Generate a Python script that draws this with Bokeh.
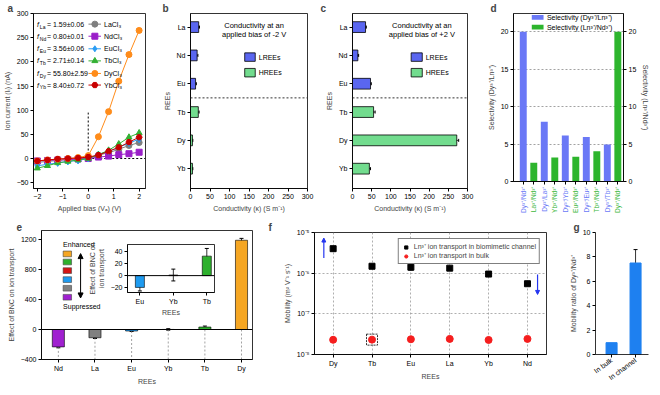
import math
from bokeh.plotting import figure
from bokeh.layouts import row, column
from bokeh.models import (Range1d, LinearAxis, FixedTicker, Span, Whisker, TeeHead, Arrow,
                          NormalHead, Label, ColumnDataSource, Legend, LegendItem,
                          CustomJSTickFormatter)
from bokeh.core.properties import value
from bokeh.embed import file_html
from bokeh.resources import INLINE

FONT = "Liberation Sans"

# ---------------- data ----------------
# panel a: I-V curves
bias = [-2.0, -1.6, -1.2, -0.8, -0.4, 0.0, 0.4, 0.8, 1.2, 1.6, 2.0]
current_La = [-8, -6, -4, -2, -1, 2, 7, 12, 19, 27, 33]
current_Nd = [-5, -4, -3, -2, -1, 0, 3, 5, 8, 10, 13]
current_Eu = [-15, -12, -9, -6, -4, 0, 8, 15, 23, 32, 40]
current_Tb = [-20, -15, -9, -6, -3, 0, 8, 17, 30, 44, 53]
current_Dy = [-5, -3, -1.5, 0, 2, 6, 45, 97, 160, 215, 265]
current_Dy_err = [1, 1, 1, 1, 1, 1, 2, 3, 3, 3, 3]
current_Yb = [-5, -3, -1, 0, 1, 3, 7, 15, 23, 34, 44]
salt_labels = ["LaCl₃", "NdCl₃", "EuCl₃", "TbCl₃", "DyCl₃", "YbCl₃"]
f_elements = ["La", "Nd", "Eu", "Tb", "Dy", "Yb"]
f_values = ["1.59±0.06", "0.80±0.01", "3.56±0.06", "2.71±0.14", "55.80±2.59", "8.40±0.72"]

# panels b, c: conductivity
ree_cats = ["La", "Nd", "Eu", "Tb", "Dy", "Yb"]
ree_group = ["LREEs", "LREEs", "LREEs", "HREEs", "HREEs", "HREEs"]
cond_neg2 = [21, 17, 13, 20, 5, 5]
cond_neg2_err = [2, 2, 2, 2, 1, 1]
cond_pos2 = [34, 14, 47, 55, 272, 44]
cond_pos2_err = [2, 2, 2, 4, 5, 3]

# panel d: selectivity
sel_labels = ["Dy³⁺/Nd³⁺", "La³⁺/Nd³⁺", "Dy³⁺/La³⁺", "Yb³⁺/Nd³⁺", "Dy³⁺/Yb³⁺",
              "Eu³⁺/Nd³⁺", "Dy³⁺/Eu³⁺", "Tb³⁺/Nd³⁺", "Dy³⁺/Tb³⁺", "Dy³⁺/Nd³⁺"]
sel_values = [20, 2.5, 8.0, 3.2, 6.15, 3.3, 5.95, 4.05, 4.95, 20]
sel_kind = ["Dy/Ln", "Ln/Nd", "Dy/Ln", "Ln/Nd", "Dy/Ln", "Ln/Nd", "Dy/Ln", "Ln/Nd", "Dy/Ln", "Ln/Nd"]
sel_series = ["Selectivity (Dy³⁺/Ln³⁺)", "Selectivity (Ln³⁺/Nd³⁺)"]

# panel e: effect of BNC
bnc_cats = ["Nd", "La", "Eu", "Yb", "Tb", "Dy"]
bnc_values = [-232, -110, -20, 1, 33, 1190]
bnc_err = [12, 10, 6, 10, 13, 25]
bnc_inset = ["Eu", "Yb", "Tb"]

# panel f: mobility
mob_cats = ["Dy", "Tb", "Eu", "La", "Yb", "Nd"]
mob_channel = [4.0e-6, 1.48e-6, 1.40e-6, 1.33e-6, 9.5e-7, 5.5e-7]
mob_channel_err = [0.4e-6, 0.1e-6, 0.2e-6, 0.1e-6, 0.06e-6, 0.05e-6]
mob_bulk = [2.30e-8, 2.32e-8, 2.37e-8, 2.42e-8, 2.28e-8, 2.42e-8]
mob_series = ["Ln³⁺ ion transport in biomimetic channel", "Ln³⁺ ion transport in bulk"]

# panel g: mobility ratio
ratio_cats = ["In bulk", "In channel"]
ratio_values = [0.97, 7.5]
ratio_err = [0.0, 1.1]

# ---------------- colours ----------------
ELEM_COLORS = {"La": "#808080", "Nd": "#A020D0", "Eu": "#1E9BF0", "Tb": "#2DB02D",
               "Dy": "#F5A623", "Yb": "#D41414"}
A_COLORS = {"La": "#7F7F7F", "Nd": "#9A1FC8", "Eu": "#2A9DF4", "Tb": "#33B033",
            "Dy": "#FF8C1A", "Yb": "#C80000"}
A_MARKERS = {"La": "circle", "Nd": "square", "Eu": "diamond", "Tb": "triangle",
             "Dy": "circle", "Yb": "hex"}
GROUP_COLORS = {"LREEs": "#5A66F0", "HREEs": "#72DC8E"}
SEL_COLORS = {"Dy/Ln": "#6A78F6", "Ln/Nd": "#2DB52D"}
SEL_TEXT = {"Dy/Ln": "#6A78F6", "Ln/Nd": "#3DB83D"}


def style_axis(ax, label=None):
    ax.axis_line_color = "black"
    ax.axis_line_width = 0.8
    ax.major_tick_line_color = "black"
    ax.major_tick_out = 3
    ax.major_tick_in = 0
    ax.minor_tick_line_color = None
    ax.major_label_text_font = FONT
    ax.major_label_text_font_size = "7px"
    ax.major_label_text_color = "black"
    ax.major_label_standoff = 2
    ax.axis_label_text_font = FONT
    ax.axis_label_text_font_size = "7px"
    ax.axis_label_text_font_style = "normal"
    ax.axis_label_standoff = 3
    if label is not None:
        ax.axis_label = label


def make_fig(w, h, xr, yr, lb, rb, tb, bb, letter, dx, **kw):
    p = figure(width=w, height=h, x_range=xr, y_range=yr, output_backend="svg",
               toolbar_location=None, min_border_left=lb, min_border_right=rb,
               min_border_top=tb, min_border_bottom=bb, title=letter, **kw)
    p.title.text_font = FONT
    p.title.text_font_size = "10px"
    p.title.text_font_style = "bold"
    p.title.align = "left"
    p.title.offset = dx
    p.title.standoff = 0
    p.grid.grid_line_color = None
    p.outline_line_color = "black"
    p.outline_line_width = 0.8
    p.background_fill_color = "white"
    p.border_fill_color = "white"
    for ax in p.xaxis + p.yaxis:
        style_axis(ax)
    return p


def lbl(p, x, y, text, size="7px", align="left", color="black", style="normal", baseline="middle"):
    p.add_layout(Label(x=x, y=y, text=text, text_font=FONT, text_font_size=size,
                       text_align=align, text_color=color, text_font_style=style,
                       text_baseline=baseline))


# ---------------- panel a ----------------
pa = make_fig(158, 218, Range1d(-2.15, 2.25), Range1d(-62, 300), 29, 13, 11, 30, "a", -26)
pa.xaxis.ticker = FixedTicker(ticks=[-2, -1, 0, 1, 2])
pa.yaxis.ticker = FixedTicker(ticks=list(range(-50, 301, 50)))
pa.xaxis.axis_label = "Applied bias (Vₐ) (V)"
pa.yaxis.axis_label = "Ion current (Iᵢ) (nA)"
pa.segment(x0=[0], y0=[0], x1=[0], y1=[95], line_dash="2 2", line_color="black", line_width=1)
pa.segment(x0=[0], y0=[0], x1=[2.25], y1=[0], line_dash="2 2", line_color="black", line_width=1)

series_a = {"La": current_La, "Nd": current_Nd, "Eu": current_Eu, "Tb": current_Tb,
            "Dy": current_Dy, "Yb": current_Yb}
for el in f_elements:
    c = A_COLORS[el]
    pa.line(bias, series_a[el], line_color=c, line_width=1)
    size = 6 if A_MARKERS[el] != "diamond" else 7
    pa.scatter(bias, series_a[el], marker=A_MARKERS[el], size=size, fill_color=c, line_color=c)
src_dy = ColumnDataSource(dict(x=bias, up=[v + e for v, e in zip(current_Dy, current_Dy_err)],
                               lo=[v - e for v, e in zip(current_Dy, current_Dy_err)]))
pa.add_layout(Whisker(source=src_dy, base="x", upper="up", lower="lo", line_color="black",
                      line_width=0.8, upper_head=TeeHead(size=5, line_color="black", line_width=1),
                      lower_head=TeeHead(size=5, line_color="black", line_width=1)))
rows_y = [278, 253, 227, 202, 176, 152]
for i, el in enumerate(f_elements):
    y = rows_y[i]
    c = A_COLORS[el]
    pa.line([0.01, 0.5], [y, y], line_color=c, line_width=1)
    pa.scatter([0.26], [y], marker=A_MARKERS[el], size=6, fill_color=c, line_color=c)
    lbl(pa, 0.62, y, salt_labels[i])
    lbl(pa, -2.01, y, "f", style="italic")
    lbl(pa, -1.9, y - 5, el, size="5px")
    lbl(pa, -1.62, y, "= " + f_values[i])


# ---------------- panels b, c ----------------
def conductivity_panel(letter, dx, w, lb, vals, errs, text_x, sw_x0, sw_x1, bias_text):
    p = make_fig(w, 218, Range1d(0, 300), Range1d(5.7, -0.48), lb, 9, 11, 29, letter, dx)
    ypos = list(range(len(ree_cats)))
    src = ColumnDataSource(dict(y=ypos, v=vals, color=[GROUP_COLORS[g] for g in ree_group],
                                up=[v + e for v, e in zip(vals, errs)],
                                lo=[v - e for v, e in zip(vals, errs)]))
    p.hbar(y="y", right="v", left=0, height=0.38, fill_color="color", line_color="black",
           line_width=0.8, source=src)
    p.add_layout(Whisker(source=src, base="y", upper="up", lower="lo", dimension="width",
                         line_color="black", line_width=0.8,
                         upper_head=TeeHead(size=3, line_color="black"),
                         lower_head=TeeHead(size=3, line_color="black")))
    p.add_layout(Span(location=2.5, dimension="width", line_dash="2 2", line_color="#333333",
                      line_width=1))
    p.yaxis.ticker = FixedTicker(ticks=ypos)
    p.yaxis.major_label_overrides = {i: c for i, c in enumerate(ree_cats)}
    p.yaxis.axis_label = "REEs"
    p.xaxis.ticker = FixedTicker(ticks=list(range(0, 301, 50)))
    p.xaxis.axis_label = "Conductivity (κ) (S m⁻¹)"
    lbl(p, text_x, -0.07, "Conductivity at an", size="7.5px", align="center")
    lbl(p, text_x, 0.25, bias_text, size="7.5px", align="center")
    for gy, g in zip([1.06, 1.61], ["LREEs", "HREEs"]):
        p.quad(left=[sw_x0], right=[sw_x1], top=[gy - 0.15], bottom=[gy + 0.15],
               fill_color=GROUP_COLORS[g], line_color="black", line_width=0.8)
        lbl(p, sw_x1 + 9, gy, g)
    return p


pb = conductivity_panel("b", -28, 158, 32, cond_neg2, cond_neg2_err, 163, 139, 166,
                        "applied bias of -2 V")
pc = conductivity_panel("c", -32, 160, 36, cond_pos2, cond_pos2_err, 181, 153, 182,
                        "applied bias of +2 V")

# ---------------- panel d ----------------
D_W, D_H, D_L, D_R, D_B = 176, 218, 37, 24, 37
pdd = make_fig(D_W, D_H, Range1d(-0.93, 9.54), Range1d(0, 22.45), D_L, D_R, 11, D_B, "d", -23)
pdd.extra_y_ranges = {"r": Range1d(0, 22.45)}
ax_r = LinearAxis(y_range_name="r")
style_axis(ax_r, "Selectivity (Ln³⁺/Nd³⁺)")
ax_r.ticker = FixedTicker(ticks=[0, 5, 10, 15, 20])
pdd.add_layout(ax_r, "right")
pdd.yaxis[0].ticker = FixedTicker(ticks=[0, 5, 10, 15, 20])
pdd.yaxis[0].axis_label = "Selectivity (Dy³⁺/Ln³⁺)"
pdd.ygrid.grid_line_color = "#8a8a8a"
pdd.ygrid.grid_line_dash = "2 2"
pdd.ygrid.grid_line_width = 0.8
xs_d = list(range(len(sel_values)))
pdd.xaxis.ticker = FixedTicker(ticks=xs_d)
pdd.xaxis.major_label_overrides = {i: "" for i in xs_d}
src_d = ColumnDataSource(dict(x=xs_d, v=sel_values, color=[SEL_COLORS[k] for k in sel_kind],
                              tcolor=[SEL_TEXT[k] for k in sel_kind], lab=sel_labels,
                              ytop=[1.0] * len(xs_d)))
pdd.vbar(x="x", top="v", width=0.66, fill_color="color", line_color=None, source=src_d)
for gy, k, s in zip([21.93, 20.64], ["Dy/Ln", "Ln/Nd"], sel_series):
    pdd.quad(left=[0.81], right=[1.93], top=[gy + 0.32], bottom=[gy - 0.32],
             fill_color=SEL_COLORS[k], line_color=None)
    lbl(pdd, 2.25, gy, s)

# coloured category labels of d, drawn in a transparent strip laid under d's axis
LAB_H = 32
plab = figure(width=D_W, height=LAB_H, x_range=pdd.x_range, y_range=Range1d(0, 1),
              output_backend="svg", toolbar_location=None, min_border_left=D_L,
              min_border_right=D_R, min_border_top=0, min_border_bottom=0, min_border=0,
              x_axis_location=None, y_axis_location=None)
plab.grid.grid_line_color = None
plab.outline_line_color = None
plab.background_fill_alpha = 0
plab.border_fill_alpha = 0
plab.text(x="x", y="ytop", text="lab", source=src_d, angle=math.pi / 2, text_align="right",
          text_baseline="middle", text_font=value(FONT), text_font_size=value("6.5px"),
          text_color="tcolor")
plab.margin = (-(D_B - 5), 0, D_B - 5 - LAB_H, 0)

# ---------------- panel e ----------------
pe = make_fig(262, 169, Range1d(-0.46, 5.3), Range1d(-400, 1320), 30, 10, 12, 26, "e", -25)
xs_e = list(range(len(bnc_cats)))
pe.xaxis.ticker = FixedTicker(ticks=xs_e)
pe.xaxis.major_label_overrides = {i: c for i, c in enumerate(bnc_cats)}
pe.xaxis.axis_label = "REEs"
pe.yaxis.ticker = FixedTicker(ticks=[-400, 0, 400, 800, 1200])
pe.yaxis.axis_label = "Effect of BNC on ion transport"
src_e = ColumnDataSource(dict(x=xs_e, v=bnc_values, color=[ELEM_COLORS[c] for c in bnc_cats],
                              bot=[min(0, v) for v in bnc_values],
                              base=[pe.y_range.start] * len(xs_e),
                              up=[v + e for v, e in zip(bnc_values, bnc_err)],
                              lo=[v - e for v, e in zip(bnc_values, bnc_err)]))
pe.segment(x0="x", y0="bot", x1="x", y1="base", line_dash="2 2", line_color="#8a8a8a",
           line_width=0.8, source=src_e)
pe.add_layout(Span(location=0, dimension="width", line_color="black", line_width=1))
pe.vbar(x="x", top="v", bottom=0, width=0.33, fill_color="color", line_color="black",
        line_width=0.6, source=src_e)
pe.add_layout(Whisker(source=src_e, base="x", upper="up", lower="lo", line_color="black",
                      line_width=0.8, upper_head=TeeHead(size=4, line_color="black"),
                      lower_head=TeeHead(size=4, line_color="black")))
lbl(pe, 0.13, 1127, "Enhanced")
lbl(pe, 0.13, 306, "Suppressed")
sw_y = [1008, 900, 785, 665, 550, 430]
for y, c in zip(sw_y, bnc_cats[::-1]):
    pe.quad(left=[0.13], right=[0.36], top=[y + 38], bottom=[y - 38],
            fill_color=ELEM_COLORS[c], line_color="#444444", line_width=0.6)
pe.add_layout(Arrow(x_start=0.607, y_start=421, x_end=0.607, y_end=1012, line_color="black",
                    line_width=1, start=NormalHead(size=5, fill_color="black", line_color="black"),
                    end=NormalHead(size=5, fill_color="black", line_color="black")))

# inset
IN_L, IN_W, IN_H = 40, 138, 78
pin = figure(width=IN_W, height=IN_H, x_range=Range1d(-0.37, 2.23), y_range=Range1d(-28.6, 52.7),
             output_backend="svg", toolbar_location=None, min_border_left=IN_L, min_border_right=4,
             min_border_top=4, min_border_bottom=22)
pin.grid.grid_line_color = None
pin.outline_line_color = "black"
pin.outline_line_width = 0.8
pin.border_fill_alpha = 0
pin.background_fill_color = "white"
for ax in pin.xaxis + pin.yaxis:
    style_axis(ax)
idx = [bnc_cats.index(c) for c in bnc_inset]
xs_in = list(range(len(bnc_inset)))
vin = [bnc_values[i] for i in idx]
ein = [bnc_err[i] for i in idx]
src_in = ColumnDataSource(dict(x=xs_in, v=vin, color=[ELEM_COLORS[c] for c in bnc_inset],
                               up=[v + e for v, e in zip(vin, ein)],
                               lo=[v - e for v, e in zip(vin, ein)]))
pin.add_layout(Span(location=0, dimension="width", line_color="black", line_width=1))
pin.vbar(x="x", top="v", bottom=0, width=0.27, fill_color="color", line_color="black",
         line_width=0.6, source=src_in)
pin.add_layout(Whisker(source=src_in, base="x", upper="up", lower="lo", line_color="black",
                       line_width=0.8, upper_head=TeeHead(size=4, line_color="black"),
                       lower_head=TeeHead(size=4, line_color="black")))
pin.xaxis.ticker = FixedTicker(ticks=xs_in)
pin.xaxis.major_label_overrides = {i: c for i, c in enumerate(bnc_inset)}
pin.xaxis.axis_label = "REEs"
pin.xaxis.axis_label_standoff = 1
pin.yaxis.ticker = FixedTicker(ticks=[-20, 0, 20, 40])
pin.yaxis.axis_label = "Effect of BNC on\nion transport"
pin.margin = (-147, 0, 69, 86)

# ---------------- panel f ----------------
pf = make_fig(296, 169, Range1d(-0.48, 5.49), Range1d(1e-8, 1e-5), 52, 12, 12, 26, "f", -46,
              y_axis_type="log")
xs_f = list(range(len(mob_cats)))
pf.xaxis.ticker = FixedTicker(ticks=xs_f)
pf.xaxis.major_label_overrides = {i: c for i, c in enumerate(mob_cats)}
pf.xaxis.axis_label = "REEs"
pf.yaxis.ticker = FixedTicker(ticks=[1e-8, 1e-7, 1e-6, 1e-5])
pf.yaxis.formatter = CustomJSTickFormatter(code="""
const e = Math.round(Math.log10(tick));
const m = {"-": "\u207b", "0": "\u2070", "1": "\u00b9", "2": "\u00b2", "3": "\u00b3",
           "4": "\u2074", "5": "\u2075", "6": "\u2076", "7": "\u2077", "8": "\u2078", "9": "\u2079"};
return "10" + String(e).split("").map(c => m[c]).join("");
""")
pf.yaxis.axis_label = "Mobility (m² V⁻¹ s⁻¹)"
pf.grid.grid_line_color = "#9a9a9a"
pf.grid.grid_line_dash = "2 2"
pf.grid.grid_line_width = 0.8
src_f = ColumnDataSource(dict(x=xs_f, ch=mob_channel, bulk=mob_bulk,
                              up=[v + e for v, e in zip(mob_channel, mob_channel_err)],
                              lo=[v - e for v, e in zip(mob_channel, mob_channel_err)]))
pf.add_layout(Whisker(source=src_f, base="x", upper="up", lower="lo", line_color="black",
                      line_width=0.8, upper_head=TeeHead(size=4, line_color="black"),
                      lower_head=TeeHead(size=4, line_color="black")))
r_ch = pf.scatter(x="x", y="ch", marker="square", size=6, fill_color="black", line_color="black",
                  source=src_f)
r_bu = pf.scatter(x="x", y="bulk", marker="circle", size=7, fill_color="#F51E1E",
                  line_color="#F51E1E", source=src_f)
tb_i = mob_cats.index("Tb")
pf.scatter([tb_i], [mob_bulk[tb_i]], marker="square", size=11, fill_color=None,
           line_color="black", line_dash="2 1", line_width=0.8)
blue = "#2536F0"
pf.add_layout(Arrow(x_start=-0.24, y_start=2.36e-6, x_end=-0.24, y_end=7.3e-6, line_color=blue,
                    line_width=1.2, end=NormalHead(size=4, fill_color=blue, line_color=blue)))
pf.add_layout(Arrow(x_start=5.26, y_start=9.3e-7, x_end=5.26, y_end=3.0e-7, line_color=blue,
                    line_width=1.2, end=NormalHead(size=4, fill_color=blue, line_color=blue)))
leg = Legend(items=[LegendItem(label=mob_series[0], renderers=[r_ch]),
                    LegendItem(label=mob_series[1], renderers=[r_bu])],
             location="top_right", margin=6, padding=3, spacing=0, label_height=8,
             glyph_height=8, glyph_width=8, label_standoff=4, label_text_font=FONT,
             label_text_font_size="7px", border_line_color="black", border_line_width=0.8,
             background_fill_color="white", background_fill_alpha=1)
pf.add_layout(leg)

# ---------------- panel g ----------------
pg = make_fig(94, 169, Range1d(-0.67, 1.54), Range1d(0, 10), 37, 4, 14, 26, "g", -22)
pg.outline_line_color = None
xs_g = list(range(len(ratio_cats)))
src_g = ColumnDataSource(dict(x=xs_g, v=ratio_values,
                              up=[v + e for v, e in zip(ratio_values, ratio_err)],
                              lo=[v - e for v, e in zip(ratio_values, ratio_err)]))
pg.vbar(x="x", top="v", bottom=0, width=0.46, fill_color="#1E80F0", line_color="#1E80F0",
        source=src_g)
src_g2 = ColumnDataSource(dict(x=xs_g[1:], up=src_g.data["up"][1:], lo=src_g.data["lo"][1:]))
pg.add_layout(Whisker(source=src_g2, base="x", upper="up", lower="lo", line_color="black",
                      line_width=0.8, upper_head=TeeHead(size=4, line_color="black"),
                      lower_head=TeeHead(size=4, line_color="black")))
pg.xaxis.ticker = FixedTicker(ticks=xs_g)
pg.xaxis.major_label_overrides = {i: c for i, c in enumerate(ratio_cats)}
pg.xaxis.major_label_orientation = math.pi / 5
pg.yaxis.ticker = FixedTicker(ticks=[0, 2, 4, 6, 8, 10])
pg.yaxis.axis_label = "Mobility ratio of Dy³⁺/Nd³⁺"

layout = column(row(pa, pb, pc, column(pdd, plab)), row(column(pe, pin), pf, pg))
open("out.html", "w").write(file_html(layout, INLINE))
